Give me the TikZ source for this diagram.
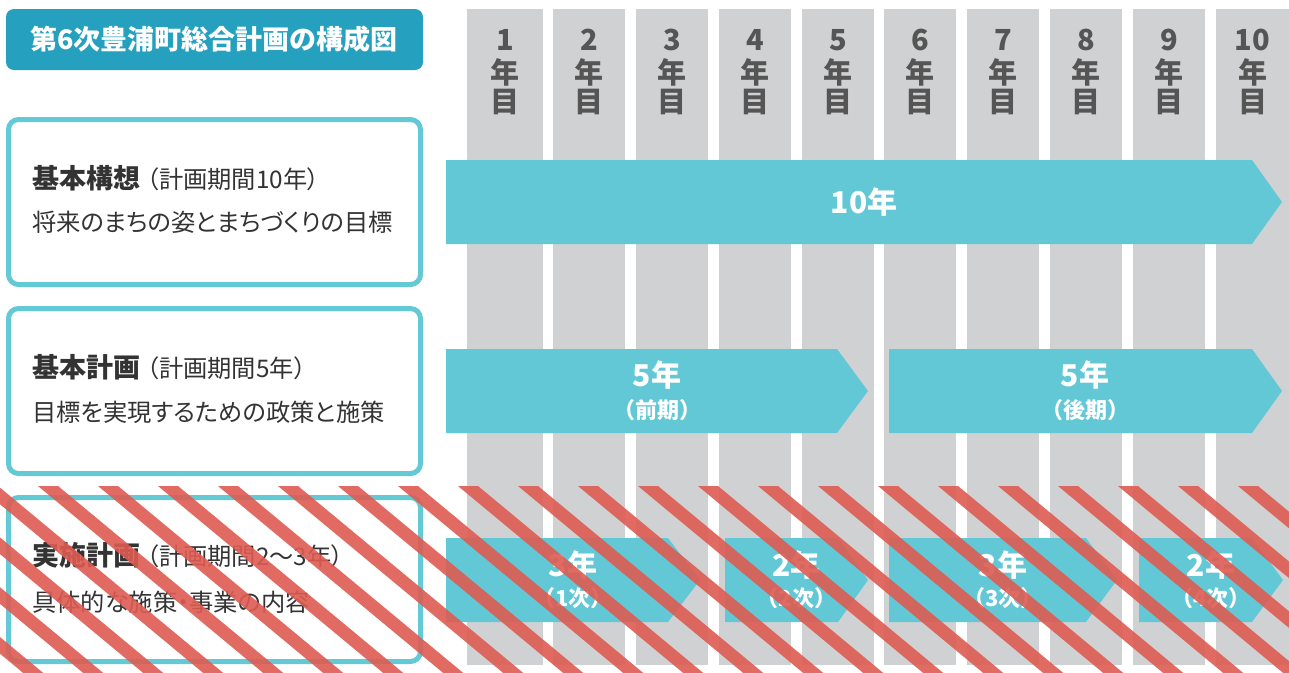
\documentclass[tikz,border=0pt]{standalone}
\usepackage{fontspec}
\setmainfont{Noto Sans CJK JP}[RawFeature=+palt]
\newfontfamily\jpfull{Noto Sans CJK JP}
\definecolor{titlebg}{RGB}{37,161,191}
\definecolor{boxline}{RGB}{98,201,213}
\definecolor{arrowfill}{RGB}{98,200,214}
\definecolor{colgray}{RGB}{208,209,211}
\definecolor{txt}{RGB}{51,51,51}
\definecolor{hdr}{RGB}{85,85,85}
\definecolor{stripec}{RGB}{222,92,82}
\tikzset{
  colbar/.style={fill=colgray},
  hdrtext/.style={text=hdr, inner sep=0pt, font=\fontsize{21.75}{22}\selectfont\bfseries},
  planbox/.style={draw=boxline, line width=3.75pt, rounded corners=7.5pt, fill=white},
  arrowbody/.style={fill=arrowfill},
  bigtext/.style={text=white, inner sep=0pt, font=\fontsize{22.5}{24}\selectfont\bfseries},
  smalltext/.style={text=white, inner sep=0pt, font=\jpfull\fontsize{16.5}{18}\selectfont\bfseries},
  lefttext/.style={text=txt, inner sep=0pt, anchor=west},
  stripe/.style={draw=stripec, line width=9.6pt, draw opacity=0.9}
}
\newcommand{\headfont}{\fontsize{20.25}{22}\selectfont\bfseries}
\newcommand{\bodyfont}{\fontsize{18.2}{22}\selectfont}
\begin{document}
\begin{tikzpicture}[x=0.75pt,y=-0.75pt]
\useasboundingbox (0,0) rectangle (1289,672);
\fill[white] (0,0) rectangle (1289,672);
% year columns
\foreach \i/\xl/\xr in {1/467/543,2/553/625,3/636/708,4/719/791,5/802/874,6/884/956,7/967/1039,8/1050/1122,9/1133/1205,10/1216/1289}{
  \fill[colbar] (\xl,9) rectangle (\xr,665);
  \node[hdrtext] (num\i) at ({(\xl+\xr)/2},40) {\i};
  \node[hdrtext] (nen\i) at ({(\xl+\xr)/2},72) {年};
  \node[hdrtext] (me\i) at ({(\xl+\xr)/2},102) {目};
}
% title
\fill[titlebg, rounded corners=6pt] (6,9) rectangle (423,70);
\node[text=white, inner sep=0pt, font=\fontsize{20.25}{24}\selectfont\bfseries] (title) at (214,39.5) {第6次豊浦町総合計画の構成図};
% left boxes
\path[planbox] (8.5,119.5) rectangle (420.5,284.5);
\path[planbox] (8.5,308.5) rectangle (420.5,473.5);
\path[planbox] (8.5,497.5) rectangle (420.5,661.5);
\node[lefttext] (k1) at (32,178) {{\headfont 基本構想}\hspace{5pt}{\bodyfont （計画期間10年）}};
\node[lefttext] (k2) at (32,222) {\bodyfont 将来のまちの姿とまちづくりの目標};
\node[lefttext] (p1) at (32,367) {{\headfont 基本計画}\hspace{5pt}{\bodyfont （計画期間5年）}};
\node[lefttext] (p2) at (32,412) {\bodyfont 目標を実現するための政策と施策};
\node[lefttext] (j1) at (32,555) {{\headfont 実施計画}\hspace{5pt}{\bodyfont （計画期間2～3年）}};
\node[lefttext] (j2) at (32,602) {\bodyfont 具体的な施策・事業の内容};
% arrows
\fill[arrowbody] (446,160) -- (1252,160) -- (1282,202) -- (1252,244) -- (446,244) -- cycle;
\fill[arrowbody] (446,349) -- (837,349) -- (868,391) -- (837,433) -- (446,433) -- cycle;
\fill[arrowbody] (889,349) -- (1252,349) -- (1282,391) -- (1252,433) -- (889,433) -- cycle;
\fill[arrowbody] (446,538) -- (668,538) -- (700,580) -- (668,622) -- (446,622) -- cycle;
\fill[arrowbody] (725,538) -- (838,538) -- (868,580) -- (838,622) -- (725,622) -- cycle;
\fill[arrowbody] (889,538) -- (1086,538) -- (1117,580) -- (1086,622) -- (889,622) -- cycle;
\fill[arrowbody] (1139,538) -- (1252,538) -- (1283,580) -- (1252,622) -- (1139,622) -- cycle;
\node[bigtext] (a10) at (864,202) {10年};
\node[bigtext] (a5a) at (657,375) {5年};
\node[smalltext] (a5as) at (657,410) {（前期）};
\node[bigtext] (a5b) at (1085,375) {5年};
\node[smalltext] (a5bs) at (1085,410) {（後期）};
\node[bigtext] (a31) at (573,565) {3年};
\node[smalltext] (a31s) at (573,598) {（1次）};
\node[bigtext] (a22) at (796.5,565) {2年};
\node[smalltext] (a22s) at (796.5,598) {（2次）};
\node[bigtext] (a33) at (1003,565) {3年};
\node[smalltext] (a33s) at (1003,598) {（3次）};
\node[bigtext] (a24) at (1211,565) {2年};
\node[smalltext] (a24s) at (1211,598) {（4次）};
% red hatch overlay
\begin{scope}
  \clip (0,486) rectangle (1289,672);
  \foreach \k in {-6,...,21}{
    \draw[stripe] ({48+60*\k-103.6},400) -- ({48+60*\k+330.1},760);
  }
\end{scope}
\end{tikzpicture}
\end{document}
